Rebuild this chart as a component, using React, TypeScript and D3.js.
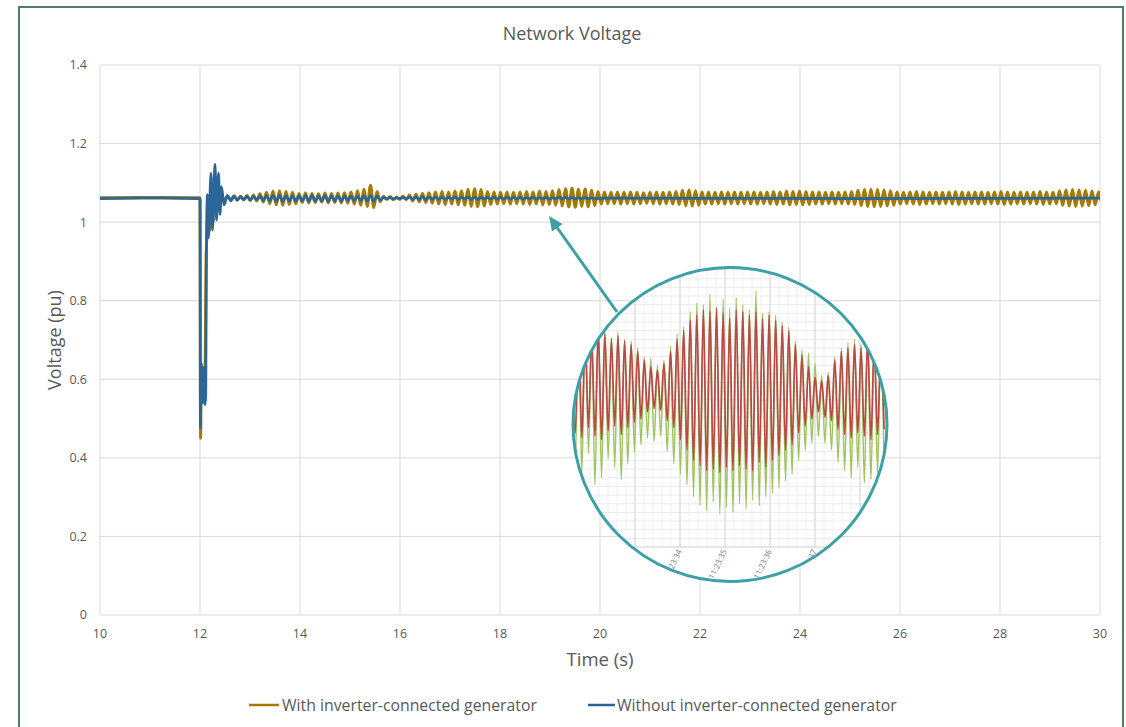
import React from 'react';
import * as d3 from 'd3';

// ---- main chart data ----
const xTicks = [10, 12, 14, 16, 18, 20, 22, 24, 26, 28, 30];
const yTicks = [0, 0.2, 0.4, 0.6, 0.8, 1, 1.2, 1.4];
const seriesNames = ['With inverter-connected generator', 'Without inverter-connected generator'];

// pre-fault and fault transient samples (time s, voltage pu)
const withFaultT = [10, 11, 12.0, 12.012, 12.025, 12.05, 12.075, 12.1, 12.12, 12.14, 12.17, 12.2, 12.23, 12.26, 12.29, 12.32, 12.35, 12.38, 12.42, 12.47];
const withFaultV = [1.062, 1.063, 1.062, 0.45, 0.64, 0.58, 0.63, 0.59, 0.9, 0.97, 1.06, 0.98, 1.08, 1.0, 1.09, 1.02, 1.08, 1.04, 1.078, 1.055];
const withoutFaultT = [10, 11, 12.0, 12.008, 12.025, 12.05, 12.075, 12.1, 12.115, 12.13, 12.15, 12.17, 12.22, 12.25, 12.3, 12.33, 12.37, 12.4, 12.43, 12.48];
const withoutFaultV = [1.06, 1.061, 1.06, 0.476, 0.64, 0.54, 0.63, 0.535, 0.56, 0.97, 1.07, 0.96, 1.125, 0.98, 1.148, 1.005, 1.125, 1.02, 1.09, 1.044];

// post-fault oscillation, one peak + one trough per cycle
const cycleStart = 12.55;
const cyclePeriod = 0.13;
const withPeaks = [
  1.066, 1.067, 1.066, 1.068, 1.069,
  1.072, 1.076, 1.079, 1.08, 1.078, 1.076,
  1.073, 1.074, 1.073, 1.072, 1.074, 1.073, 1.074, 1.075,
  1.077, 1.08, 1.084, 1.094, 1.078,
  1.066, 1.065, 1.064, 1.066,
  1.069, 1.071, 1.073, 1.075,
  1.077, 1.078, 1.077, 1.079, 1.08,
  1.084, 1.085, 1.083,
  1.078, 1.077, 1.076, 1.077, 1.076,
  1.077, 1.078, 1.077, 1.079, 1.078, 1.08,
  1.083, 1.085, 1.086, 1.084, 1.085, 1.082,
  1.078, 1.077, 1.076, 1.077, 1.076, 1.077, 1.076, 1.075, 1.076, 1.077, 1.076, 1.077, 1.078,
  1.081, 1.082, 1.08,
  1.077, 1.077, 1.076, 1.077, 1.076, 1.077, 1.076, 1.077, 1.077, 1.076, 1.077, 1.078, 1.077,
  1.079, 1.078, 1.079, 1.078, 1.077,
  1.077, 1.076, 1.077, 1.076, 1.077, 1.078,
  1.081, 1.083, 1.084, 1.083, 1.082, 1.08,
  1.077, 1.076, 1.077, 1.078, 1.077, 1.076, 1.077, 1.076, 1.077, 1.078, 1.077, 1.076, 1.077,
  1.077, 1.076, 1.077, 1.078, 1.077, 1.076, 1.077, 1.076, 1.077, 1.078, 1.077, 1.076,
  1.08, 1.082, 1.083, 1.082, 1.081, 1.079,
  1.077,
];
const withTroughs = [
  1.057, 1.056, 1.057, 1.055, 1.054,
  1.051, 1.047, 1.044, 1.043, 1.045, 1.047,
  1.05, 1.049, 1.05, 1.051, 1.049, 1.05, 1.049, 1.048,
  1.046, 1.043, 1.04, 1.037, 1.052,
  1.058, 1.057, 1.058, 1.057,
  1.054, 1.052, 1.05, 1.048,
  1.046, 1.045, 1.046, 1.044, 1.043,
  1.04, 1.039, 1.041,
  1.045, 1.046, 1.047, 1.046, 1.047,
  1.046, 1.045, 1.046, 1.044, 1.045, 1.043,
  1.041, 1.039, 1.038, 1.04, 1.039, 1.042,
  1.046, 1.047, 1.047, 1.046, 1.047, 1.046, 1.047, 1.048, 1.047, 1.046, 1.047, 1.046, 1.045,
  1.042, 1.041, 1.043,
  1.046, 1.046, 1.047, 1.046, 1.047, 1.046, 1.047, 1.046, 1.046, 1.047, 1.046, 1.045, 1.046,
  1.044, 1.045, 1.044, 1.045, 1.046,
  1.046, 1.047, 1.046, 1.047, 1.046, 1.045,
  1.042, 1.04, 1.039, 1.04, 1.041, 1.043,
  1.046, 1.047, 1.046, 1.045, 1.046, 1.047, 1.046, 1.047, 1.046, 1.045, 1.046, 1.047, 1.046,
  1.046, 1.047, 1.046, 1.045, 1.046, 1.047, 1.046, 1.047, 1.046, 1.045, 1.046, 1.047,
  1.043, 1.041, 1.04, 1.041, 1.042, 1.044,
  1.046,
];
const withoutPeaks = [
  1.068, 1.066, 1.065, 1.066, 1.065,
  1.066, 1.067, 1.068, 1.068, 1.067, 1.067,
  1.067, 1.068, 1.068, 1.067, 1.068, 1.067, 1.067, 1.066,
  1.066, 1.066, 1.067, 1.068, 1.066,
  1.063, 1.063, 1.062, 1.063,
  1.064, 1.064, 1.065, 1.064,
  1.064, 1.064, 1.063, 1.064, 1.063,
  1.064, 1.064, 1.063,
  1.063, 1.063, 1.063, 1.063, 1.063,
  1.063, 1.062, 1.063, 1.062, 1.063, 1.062,
  1.063, 1.063, 1.063, 1.062, 1.062, 1.062,
];
const withoutTroughs = [
  1.054, 1.056, 1.057, 1.056, 1.057,
  1.055, 1.054, 1.053, 1.053, 1.054, 1.054,
  1.054, 1.053, 1.053, 1.054, 1.053, 1.054, 1.054, 1.055,
  1.055, 1.055, 1.054, 1.053, 1.056,
  1.059, 1.059, 1.06, 1.059,
  1.058, 1.058, 1.057, 1.058,
  1.058, 1.058, 1.059, 1.058, 1.059,
  1.058, 1.058, 1.059,
  1.059, 1.059, 1.059, 1.059, 1.059,
  1.059, 1.06, 1.059, 1.06, 1.059, 1.06,
  1.059, 1.059, 1.059, 1.06, 1.06, 1.06,
];
const withoutTailT = [20.1, 25, 30];
const withoutTailV = [1.061, 1.06, 1.061];

// ---- inset (zoomed view of the measured trace) ----
const insetTicks = [33, 34, 35, 36, 37, 38];
const insetStart = 31.6;
const insetPeriod = 0.146;
const redPeaks = [
  248.2, 248.5, 248.4, 248.1, 248.6, 248.3, 248.0, 248.2, 247.9, 247.7,
  247.3, 246.8, 246.4, 246.2,
  246.6, 247.3, 248.0, 248.5,
  249.1, 249.4, 249.7, 249.6, 249.8, 249.5, 249.2, 249.7, 249.6, 249.4, 249.6, 249.2, 249.4, 249.1, 248.8, 248.5,
  247.7, 247.1, 246.4,
  245.8, 245.6, 245.9,
  246.8, 247.3, 247.5, 247.7, 247.5, 248.0, 247.7, 247.4,
];
const redTroughs = [
  242.6, 242.3, 242.9, 242.4, 242.2, 242.7, 243.0, 242.5, 242.9, 243.2,
  243.4, 243.8, 244.0, 243.9,
  243.3, 242.9, 242.2, 241.6,
  241.0, 240.7, 240.4, 240.5, 240.3, 240.6, 240.4, 240.7, 240.5, 240.4, 240.9, 240.6, 241.0, 241.3, 241.6, 241.9,
  242.6, 243.0, 243.4,
  243.8, 243.5, 243.3,
  242.8, 242.5, 242.3, 242.6, 242.4, 242.2, 242.5, 242.8,
];
const greenPeaks = [
  248.5, 248.9, 249.1, 248.3, 248.8, 248.6, 248.1, 248.4, 248.0, 247.9,
  247.5, 247.0, 246.9, 246.5,
  246.8, 247.6, 248.3, 248.7,
  249.6, 250.1, 250.0, 250.6, 249.9, 250.3, 249.8, 250.4, 250.0, 249.7, 250.8, 249.5, 249.6, 249.4, 249.0, 248.7,
  247.9, 247.4, 247.2,
  246.6, 245.9, 246.1,
  247.0, 247.5, 247.8, 248.0, 247.7, 248.3, 248.1, 247.6,
];
const greenTroughs = [
  240.9, 240.3, 241.4, 239.6, 240.0, 241.1, 240.6, 239.9, 240.8, 241.5,
  241.9, 242.3, 242.1, 242.4,
  241.5, 240.8, 240.2, 239.6,
  238.9, 238.4, 238.1, 238.6, 237.9, 238.3, 238.0, 238.5, 238.2, 238.7, 238.4, 238.9, 239.1, 239.4, 239.8, 240.2,
  241.0, 241.6, 242.0,
  242.4, 242.0, 241.6,
  240.9, 240.4, 240.0, 240.6, 239.7, 239.9, 240.3, 240.8,
];

type Pt = [number, number];

function zipPts(t: number[], v: number[]): Pt[] {
  return t.map((d, i) => [d, v[i]] as Pt);
}
function cyclePts(start: number, period: number, peaks: number[], troughs: number[]): Pt[] {
  const out: Pt[] = [];
  peaks.forEach((p, i) => {
    out.push([start + i * period, p]);
    out.push([start + i * period + period / 2, troughs[i]]);
  });
  return out;
}

const FONT = "'Open Sans', 'Noto Sans', sans-serif";
const TXT = '#595959';
const GRID = '#d9d9d9';
const BROWN = '#a37b05';
const BLUE = '#2c6698';
const TEAL = '#3ca0a6';

export default function App() {
  const margin = { left: 100, right: 1100, top: 65, bottom: 615 };
  const x = d3.scaleLinear().domain([10, 30]).range([margin.left, margin.right]);
  const y = d3.scaleLinear().domain([0, 1.4]).range([margin.bottom, margin.top]);

  const withData = zipPts(withFaultT, withFaultV).concat(cyclePts(cycleStart, cyclePeriod, withPeaks, withTroughs));
  const withoutData = zipPts(withoutFaultT, withoutFaultV)
    .concat(cyclePts(cycleStart, cyclePeriod, withoutPeaks, withoutTroughs))
    .concat(zipPts(withoutTailT, withoutTailV));

  const line = d3.line<Pt>()
    .x(d => x(d[0]))
    .y(d => y(d[1]))
    .curve(d3.curveMonotoneX);

  // inset geometry
  const cx = 730, cy = 424.5, r = 157;
  const ix = d3.scaleLinear().domain([34, 37]).range([680, 815]);
  const iy = d3.scaleLinear().domain([236, 252]).range([547, 270]);
  const iline = d3.line<Pt>()
    .x(d => ix(d[0]))
    .y(d => iy(d[1]))
    .curve(d3.curveMonotoneX);
  const greenData = cyclePts(insetStart, insetPeriod, greenPeaks, greenTroughs);
  const redData = cyclePts(insetStart, insetPeriod, redPeaks, redTroughs);
  const minorX = d3.range(31, 39.01, 0.2);
  const minorY = iy.ticks(32);

  const fmt = (v: number) => (v === 0 || v === 1 ? String(v) : d3.format('.1f')(v));

  return (
    <svg width={1126} height={727} style={{ position: 'absolute', left: 0, top: 0, background: '#fff' }}>
      <defs>
        <clipPath id="plotClip">
          <rect x={margin.left} y={margin.top - 20} width={margin.right - margin.left} height={margin.bottom - margin.top + 20} />
        </clipPath>
        <clipPath id="circleClip">
          <circle cx={cx} cy={cy} r={r} />
        </clipPath>
      </defs>

      <rect x={19} y={7} width={1104} height={740} fill="#fff" stroke="#4f7f5f" strokeWidth={2} />

      <text x={572} y={40} textAnchor="middle" fontFamily={FONT} fontSize={18} fill={TXT}>Network Voltage</text>

      {/* grid */}
      {yTicks.map(t => (
        <line key={'gy' + t} x1={margin.left} x2={margin.right} y1={y(t)} y2={y(t)} stroke={GRID} strokeWidth={1} />
      ))}
      {xTicks.map(t => (
        <line key={'gx' + t} x1={x(t)} x2={x(t)} y1={margin.top} y2={margin.bottom} stroke={GRID} strokeWidth={1} />
      ))}

      {yTicks.map(t => (
        <text key={'ly' + t} x={87} y={y(t)} dy="0.35em" textAnchor="end" fontFamily={FONT} fontSize={12.5} fill={TXT}>{fmt(t)}</text>
      ))}
      {xTicks.map(t => (
        <text key={'lx' + t} x={x(t)} y={638} textAnchor="middle" fontFamily={FONT} fontSize={12.5} fill={TXT}>{t}</text>
      ))}

      <text x={600} y={666} textAnchor="middle" fontFamily={FONT} fontSize={18.5} fill={TXT}>Time (s)</text>
      <text transform="translate(61,340) rotate(-90)" textAnchor="middle" fontFamily={FONT} fontSize={18} fill={TXT}>Voltage (pu)</text>

      <g clipPath="url(#plotClip)">
        <path d={line(withData) || ''} fill="none" stroke={BROWN} strokeWidth={3} strokeLinejoin="round" />
        <path d={line(withoutData) || ''} fill="none" stroke={BLUE} strokeWidth={2.75} strokeLinejoin="round" />
      </g>

      {/* zoomed inset */}
      <line x1={617} y1={312} x2={556} y2={226} stroke={TEAL} strokeWidth={3} />
      <polygon points="549,216 562.5,224 552,231.5" fill={TEAL} />
      <g clipPath="url(#circleClip)">
        <circle cx={cx} cy={cy} r={r} fill="#fff" />
        {minorY.map(t => (
          <line key={'iy' + t} x1={cx - r} x2={cx + r} y1={iy(t)} y2={iy(t)} stroke="#ececec" strokeWidth={1} />
        ))}
        {minorX.map(t => (
          <line key={'ix' + t} x1={ix(t)} x2={ix(t)} y1={cy - r} y2={547} stroke="#efefef" strokeWidth={1} />
        ))}
        {insetTicks.map(t => (
          <line key={'iM' + t} x1={ix(t)} x2={ix(t)} y1={cy - r} y2={547} stroke="#d6d6d6" strokeWidth={1} />
        ))}
        <line x1={cx - r} x2={cx + r} y1={547} y2={547} stroke="#d6d6d6" strokeWidth={1} />
        {insetTicks.map(t => (
          <text key={'it' + t} transform={`translate(${ix(t) + 2},${551}) rotate(-65)`} textAnchor="end"
            fontFamily={FONT} fontSize={8} fill="#7a7a7a">{`11:23:${t}`}</text>
        ))}
        <path d={iline(greenData) || ''} fill="none" stroke="#a2c364" strokeWidth={1.5} />
        <path d={iline(redData) || ''} fill="none" stroke="#b84a44" strokeWidth={1.7} />
      </g>
      <circle cx={cx} cy={cy} r={r} fill="none" stroke={TEAL} strokeWidth={3} />

      {/* legend */}
      <line x1={249} x2={279} y1={705} y2={705} stroke={BROWN} strokeWidth={2.5} />
      <text x={282} y={705} dy="0.35em" fontFamily={FONT} fontSize={15.8} fill={TXT}>{seriesNames[0]}</text>
      <line x1={588} x2={615} y1={705} y2={705} stroke={BLUE} strokeWidth={2.5} />
      <text x={617} y={705} dy="0.35em" fontFamily={FONT} fontSize={15.8} fill={TXT}>{seriesNames[1]}</text>
    </svg>
  );
}
